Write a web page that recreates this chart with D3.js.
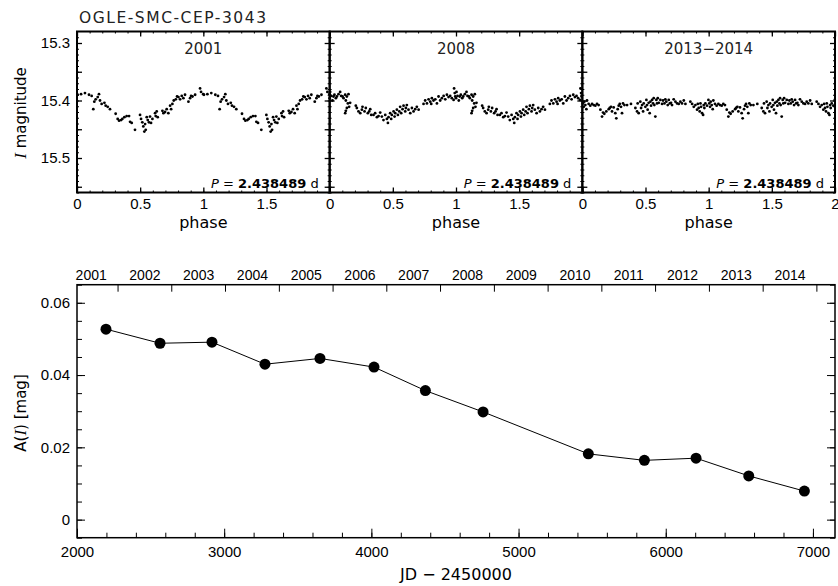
<!DOCTYPE html>
<html>
<head>
<meta charset="utf-8">
<script src="https://cdn.jsdelivr.net/npm/d3@7"></script>
<style>
body { margin: 0; background: #fff; }
svg { display: block; font-family: "DejaVu Sans", sans-serif; }
</style>
</head>
<body>
<div id="chart"></div>
<script>
const starName = "OGLE-SMC-CEP-3043";
const seasonLabels = ["2001", "2008", "2013\u22122014"];
const periodText = "2.438489";

// phase-folded light curves (one cycle, plotted twice)
const phase2001 = [0.005,0.032,0.063,0.095,0.116,0.129,0.137,0.148,0.164,0.174,0.182,0.195,0.217,0.227,0.243,0.261,0.306,0.322,0.333,0.349,0.359,0.375,0.393,0.412,0.420,0.433,0.459,0.499,0.507,0.517,0.525,0.533,0.539,0.544,0.552,0.560,0.570,0.578,0.586,0.597,0.618,0.623,0.631,0.639,0.676,0.684,0.697,0.710,0.723,0.737,0.745,0.755,0.766,0.782,0.792,0.803,0.816,0.829,0.842,0.855,0.882,0.895,0.903,0.914,0.935,0.974,0.982,0.999];
const mag2001 = [15.390,15.389,15.387,15.390,15.392,15.415,15.402,15.398,15.394,15.389,15.400,15.406,15.404,15.409,15.411,15.415,15.423,15.432,15.435,15.434,15.432,15.429,15.427,15.427,15.437,15.439,15.451,15.425,15.432,15.438,15.445,15.454,15.441,15.451,15.429,15.434,15.438,15.428,15.439,15.432,15.422,15.427,15.419,15.429,15.418,15.422,15.420,15.415,15.422,15.409,15.415,15.406,15.400,15.398,15.393,15.394,15.398,15.392,15.396,15.390,15.402,15.396,15.392,15.393,15.390,15.379,15.385,15.389];

const phase2008 = [0.985,0.990,0.000,0.004,0.012,0.022,0.030,0.038,0.049,0.057,0.070,0.083,0.091,0.102,0.110,0.123,0.128,0.136,0.144,0.149,0.154,0.162,0.128,0.123,0.136,0.207,0.215,0.228,0.242,0.255,0.260,0.276,0.286,0.302,0.313,0.321,0.329,0.347,0.360,0.374,0.387,0.400,0.413,0.426,0.440,0.453,0.461,0.466,0.479,0.487,0.492,0.506,0.514,0.519,0.532,0.540,0.551,0.558,0.566,0.577,0.585,0.598,0.603,0.611,0.624,0.638,0.651,0.664,0.677,0.690,0.704,0.743,0.756,0.770,0.783,0.796,0.804,0.809,0.822,0.836,0.849,0.862,0.875,0.888,0.902,0.915,0.928,0.941,0.954,0.967,0.981,0.994];
const mag2008 = [15.379,15.387,15.396,15.385,15.392,15.400,15.393,15.390,15.396,15.393,15.389,15.385,15.392,15.393,15.396,15.390,15.400,15.393,15.405,15.389,15.411,15.404,15.418,15.422,15.413,15.409,15.413,15.419,15.422,15.416,15.411,15.419,15.413,15.422,15.419,15.415,15.425,15.425,15.422,15.429,15.427,15.421,15.428,15.434,15.425,15.432,15.439,15.429,15.422,15.432,15.425,15.419,15.428,15.422,15.416,15.425,15.419,15.411,15.422,15.415,15.409,15.419,15.413,15.408,15.416,15.422,15.413,15.419,15.415,15.411,15.416,15.406,15.400,15.405,15.398,15.402,15.406,15.396,15.400,15.398,15.405,15.393,15.400,15.396,15.392,15.398,15.390,15.394,15.392,15.396,15.399,15.393];

const phase2013 = [0.998,0.005,0.011,0.016,0.024,0.032,0.037,0.050,0.063,0.077,0.090,0.103,0.116,0.129,0.143,0.156,0.164,0.174,0.190,0.209,0.217,0.227,0.235,0.248,0.261,0.269,0.280,0.288,0.296,0.306,0.314,0.322,0.333,0.354,0.385,0.420,0.433,0.438,0.446,0.459,0.465,0.473,0.481,0.486,0.499,0.507,0.512,0.517,0.525,0.533,0.539,0.544,0.552,0.560,0.565,0.570,0.578,0.586,0.591,0.597,0.605,0.618,0.631,0.639,0.650,0.657,0.665,0.676,0.684,0.692,0.702,0.710,0.723,0.737,0.750,0.763,0.776,0.789,0.803,0.816,0.855,0.869,0.882,0.895,0.908,0.914,0.921,0.929,0.935,0.940,0.948,0.956,0.961,0.966,0.974,0.987];
const mag2013 = [15.399,15.405,15.411,15.402,15.408,15.415,15.400,15.406,15.409,15.406,15.408,15.409,15.406,15.408,15.416,15.428,15.421,15.423,15.419,15.415,15.413,15.411,15.419,15.412,15.422,15.431,15.415,15.409,15.406,15.411,15.422,15.405,15.408,15.408,15.406,15.413,15.419,15.405,15.422,15.402,15.413,15.408,15.419,15.405,15.411,15.399,15.408,15.416,15.404,15.422,15.402,15.409,15.399,15.405,15.396,15.408,15.428,15.399,15.405,15.396,15.404,15.399,15.406,15.400,15.405,15.398,15.402,15.408,15.399,15.405,15.404,15.408,15.398,15.402,15.405,15.406,15.402,15.405,15.400,15.406,15.402,15.406,15.411,15.408,15.416,15.406,15.413,15.419,15.405,15.411,15.422,15.425,15.408,15.413,15.405,15.409];

// amplitude vs time
const ampJD = [2197, 2564, 2917, 3277, 3651, 4018, 4367, 4759, 5474, 5855, 6206, 6564, 6942];
const ampI = [0.0527, 0.0488, 0.0491, 0.0430, 0.0446, 0.0422, 0.0357, 0.0298, 0.0182, 0.0164, 0.0170, 0.0121, 0.0079];

// calendar years on the top axis (JD - 2450000 of Jan 1)
const yearNames = ["2001","2002","2003","2004","2005","2006","2007","2008","2009","2010","2011","2012","2013","2014"];
const yearStart = [1910.5, 2275.5, 2640.5, 3005.5, 3371.5, 3736.5, 4101.5, 4466.5, 4832.5, 5197.5, 5562.5, 5927.5, 6293.5, 6658.5, 7023.5];

const seasons = [
    { label: seasonLabels[0], phase: phase2001, mag: mag2001 },
    { label: seasonLabels[1], phase: phase2008, mag: mag2008 },
    { label: seasonLabels[2], phase: phase2013, mag: mag2013 }
];

const width = 838, height = 586;
const svg = d3.select("#chart").append("svg")
    .attr("width", width)
    .attr("height", height);

svg.append("rect").attr("width", width).attr("height", height).attr("fill", "#fff");

const noDomain = g => g.select(".domain").remove();
const tickStroke = (g, w) => g.selectAll("line").attr("stroke", "#000").attr("stroke-width", w);

// ---------- top row: light curves ----------
const left = 77, right = 835, top1 = 31.5, bot1 = 192.5;
const panelX = d3.scaleLinear().domain([0, 3]).range([left, right]);
const y1 = d3.scaleLinear().domain([15.28, 15.56]).range([top1, bot1]);

svg.append("text")
    .attr("x", 79).attr("y", 23)
    .attr("font-size", 15.5)
    .attr("fill", "#222")
    .attr("textLength", 187)
    .attr("lengthAdjust", "spacing")
    .text(starName);

seasons.forEach((s, i) => {
    const x0 = panelX(i), x1 = panelX(i + 1);
    const x = d3.scaleLinear().domain([0, 2]).range([x0, x1]);
    const g = svg.append("g");

    // ticks, all four sides
    const minorX = d3.range(0, 2.0001, 0.1);
    const majorX = d3.range(0, 2.0001, 0.5);
    g.append("g").attr("transform", `translate(0,${bot1})`)
        .call(d3.axisTop(x).tickValues(minorX).tickSize(2).tickFormat("")).call(noDomain).call(tickStroke, 1);
    g.append("g").attr("transform", `translate(0,${bot1})`)
        .call(d3.axisTop(x).tickValues(majorX).tickSize(5).tickFormat("")).call(noDomain).call(tickStroke, 1.3);
    g.append("g").attr("transform", `translate(0,${top1})`)
        .call(d3.axisBottom(x).tickValues(minorX).tickSize(2).tickFormat("")).call(noDomain).call(tickStroke, 1);
    g.append("g").attr("transform", `translate(0,${top1})`)
        .call(d3.axisBottom(x).tickValues(majorX).tickSize(5).tickFormat("")).call(noDomain).call(tickStroke, 1.3);

    const minorY = d3.range(15.29, 15.56, 0.01);
    const majorY = [15.3, 15.35, 15.4, 15.45, 15.5, 15.55];
    [[x0, d3.axisRight], [x1, d3.axisLeft]].forEach(([px, ax]) => {
        g.append("g").attr("transform", `translate(${px},0)`)
            .call(ax(y1).tickValues(minorY).tickSize(2).tickFormat("")).call(noDomain).call(tickStroke, 1);
        g.append("g").attr("transform", `translate(${px},0)`)
            .call(ax(y1).tickValues(majorY).tickSize(5).tickFormat("")).call(noDomain).call(tickStroke, 1.3);
    });

    // tick labels
    const labVals = i === 2 ? [0, 0.5, 1, 1.5, 2] : [0, 0.5, 1, 1.5];
    g.append("g").attr("transform", `translate(0,${bot1})`)
        .call(d3.axisBottom(x).tickValues(labVals).tickSize(0).tickPadding(6).tickFormat(d3.format("~g")))
        .call(noDomain)
        .selectAll("text").attr("font-size", 15).attr("fill", "#000");

    g.append("text")
        .attr("x", (x0 + x1) / 2).attr("y", 228)
        .attr("text-anchor", "middle")
        .attr("font-size", 16)
        .text("phase");

    // season label
    g.append("text")
        .attr("x", (x0 + x1) / 2).attr("y", 54)
        .attr("text-anchor", "middle")
        .attr("font-size", 15)
        .attr("fill", "#222")
        .text(s.label);

    // period
    const pt = g.append("text")
        .attr("x", x1 - 11).attr("y", 188)
        .attr("text-anchor", "end")
        .attr("font-size", 13);
    pt.append("tspan").attr("font-style", "italic").text("P");
    pt.append("tspan").text(" = ");
    pt.append("tspan").attr("font-weight", "bold").text(periodText);
    pt.append("tspan").text(" d");

    // points, two cycles
    const pts = [];
    s.phase.forEach((p, k) => {
        pts.push([p, s.mag[k]]);
        pts.push([p + 1, s.mag[k]]);
    });
    g.append("g").selectAll("circle")
        .data(pts)
        .enter()
        .append("circle")
        .attr("cx", d => x(d[0]))
        .attr("cy", d => y1(d[1]))
        .attr("r", 1.4)
        .attr("fill", "#000");

    g.append("rect")
        .attr("x", x0).attr("y", top1)
        .attr("width", x1 - x0).attr("height", bot1 - top1)
        .attr("fill", "none").attr("stroke", "#000").attr("stroke-width", 2);
});

// y labels for first panel
svg.append("g").attr("transform", `translate(${left},0)`)
    .call(d3.axisLeft(y1).tickValues([15.3, 15.4, 15.5]).tickSize(0).tickPadding(7).tickFormat(d3.format(".1f")))
    .call(noDomain)
    .selectAll("text").attr("font-size", 15).attr("fill", "#000");

const ylab1 = svg.append("text")
    .attr("transform", "translate(26,113) rotate(-90)")
    .attr("text-anchor", "middle")
    .attr("font-size", 15);
ylab1.append("tspan").attr("font-family", "'Liberation Serif', serif").attr("font-style", "italic").attr("font-size", 17).text("I");
ylab1.append("tspan").text(" magnitude");

// ---------- bottom: amplitude vs JD ----------
const top2 = 284.7, bot2 = 537.7;
const x2 = d3.scaleLinear().domain([2000, 7150]).range([left, right]);
const y2 = d3.scaleLinear().domain([-0.005, 0.065]).range([bot2, top2]);
const b = svg.append("g");

b.append("g").attr("transform", `translate(0,${bot2})`)
    .call(d3.axisTop(x2).tickValues(d3.range(2000, 7150, 200)).tickSize(5).tickFormat("")).call(noDomain).call(tickStroke, 1);
b.append("g").attr("transform", `translate(0,${bot2})`)
    .call(d3.axisTop(x2).tickValues(d3.range(2000, 7001, 1000)).tickSize(9).tickFormat("")).call(noDomain).call(tickStroke, 1);
b.append("g").attr("transform", `translate(0,${bot2})`)
    .call(d3.axisBottom(x2).tickValues(d3.range(2000, 7001, 1000)).tickSize(0).tickPadding(9).tickFormat(d3.format("d")))
    .call(noDomain)
    .selectAll("text").attr("font-size", 15).attr("fill", "#000");

b.append("g").attr("transform", `translate(0,${top2})`)
    .call(d3.axisBottom(x2).tickValues(yearStart.slice(1)).tickSize(7).tickFormat("")).call(noDomain).call(tickStroke, 1);
const yearMid = yearNames.map((n, k) => (yearStart[k] + yearStart[k + 1]) / 2);
b.append("g").attr("transform", `translate(0,${top2})`)
    .call(d3.axisTop(x2).tickValues(yearMid).tickSize(0).tickPadding(4.5).tickFormat((d, k) => yearNames[k]))
    .call(noDomain)
    .selectAll("text").attr("font-size", 14).attr("fill", "#000");

[[left, d3.axisRight], [right, d3.axisLeft]].forEach(([px, ax]) => {
    b.append("g").attr("transform", `translate(${px},0)`)
        .call(ax(y2).tickValues(d3.range(-0.005, 0.0651, 0.005)).tickSize(5).tickFormat("")).call(noDomain).call(tickStroke, 1);
    b.append("g").attr("transform", `translate(${px},0)`)
        .call(ax(y2).tickValues([0, 0.02, 0.04, 0.06]).tickSize(8).tickFormat("")).call(noDomain).call(tickStroke, 1);
});
b.append("g").attr("transform", `translate(${left},0)`)
    .call(d3.axisLeft(y2).tickValues([0, 0.02, 0.04, 0.06]).tickSize(0).tickPadding(7).tickFormat(d3.format("~g")))
    .call(noDomain)
    .selectAll("text").attr("font-size", 15).attr("fill", "#000");

const line = d3.line().x((d, k) => x2(ampJD[k])).y(d => y2(d));
b.append("path")
    .attr("d", line(ampI))
    .attr("fill", "none")
    .attr("stroke", "#000")
    .attr("stroke-width", 1);

b.append("g").selectAll("circle")
    .data(ampI)
    .enter()
    .append("circle")
    .attr("cx", (d, k) => x2(ampJD[k]))
    .attr("cy", d => y2(d))
    .attr("r", 5.5)
    .attr("fill", "#000");

b.append("rect")
    .attr("x", left).attr("y", top2)
    .attr("width", right - left).attr("height", bot2 - top2)
    .attr("fill", "none").attr("stroke", "#000").attr("stroke-width", 1.5);

const ylab2 = svg.append("text")
    .attr("transform", "translate(26,413) rotate(-90)")
    .attr("text-anchor", "middle")
    .attr("font-size", 15);
ylab2.append("tspan").text("A(");
ylab2.append("tspan").attr("font-family", "'Liberation Serif', serif").attr("font-style", "italic").attr("font-size", 17).text("I");
ylab2.append("tspan").text(")  [mag]");

svg.append("text")
    .attr("x", 456).attr("y", 580)
    .attr("text-anchor", "middle")
    .attr("font-size", 16)
    .text("JD \u2212 2450000");
</script>
</body>
</html>
